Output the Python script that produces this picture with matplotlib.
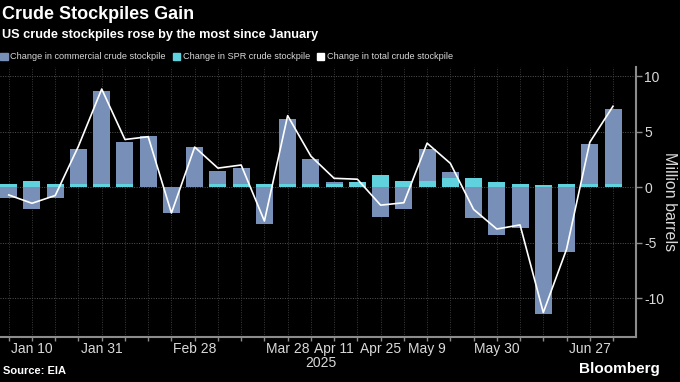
import numpy as np
import matplotlib
matplotlib.use("Agg")
import matplotlib.pyplot as plt
from matplotlib.patches import Patch

# weekly EIA changes, million barrels (weeks ending Jan 3 .. Jul 4, 2025)
weeks = ["Jan 3", "Jan 10", "Jan 17", "Jan 24", "Jan 31", "Feb 7", "Feb 14", "Feb 21",
         "Feb 28", "Mar 7", "Mar 14", "Mar 21", "Mar 28", "Apr 4", "Apr 11", "Apr 18",
         "Apr 25", "May 2", "May 9", "May 16", "May 23", "May 30", "Jun 6", "Jun 13",
         "Jun 20", "Jun 27", "Jul 4"]
commercial = [-0.95, -1.96, -1.0, 3.46, 8.66, 4.07, 4.6, -2.33, 3.61, 1.45, 1.75, -3.34,
              6.17, 2.55, 0.51, 0.24, -2.7, -1.99, 3.45, 1.33, -2.8, -4.3, -3.64, -11.47,
              -5.84, 3.85, 7.07]
spr = [0.27, 0.54, 0.27, 0.27, 0.27, 0.27, 0.0, 0.0, 0.0, 0.27, 0.27, 0.33, 0.33, 0.27,
       0.3, 0.48, 1.08, 0.57, 0.54, 0.87, 0.81, 0.51, 0.27, 0.21, 0.27, 0.27, 0.27]
total = [-0.7, -1.45, -0.75, 3.7, 8.85, 4.3, 4.55, -2.33, 3.62, 1.72, 2.0, -3.05, 6.45,
         2.8, 0.8, 0.72, -1.62, -1.4, 3.97, 2.15, -2.0, -3.77, -3.4, -11.3, -5.6, 4.05, 7.3]
shown_ticks = ["Jan 10", "Jan 31", "Feb 28", "Mar 28", "Apr 11", "Apr 25", "May 9",
               "May 30", "Jun 27"]

bg = "#000000"
c_comm = "#7890b8"
c_spr = "#5fd2de"
txt = "#d9d9d9"
axis_c = "#8c8c8c"

plt.rcParams["font.family"] = ["Liberation Sans", "DejaVu Sans"]

fig = plt.figure(figsize=(6.8, 3.82), dpi=100, facecolor=bg)
ax = fig.add_axes([0.0, 0.118, 0.935, 0.707], facecolor=bg)

x = np.arange(len(weeks))
ax.bar(x, commercial, width=0.73, color=c_comm, zorder=2)
ax.bar(x, spr, width=0.73, color=c_spr, zorder=3)
ax.plot(x, total, color="white", lw=1.2, zorder=4)

ax.set_xlim(-0.376, 26.98)
ax.set_ylim(-13.5, 10.85)

# grid
ax.set_yticks([-10, -5, 0, 5, 10])
ax.set_yticklabels(["-10", "-5", "0", "5", "10"])
for v in [-10, -5, 0, 5, 10]:
    ax.axhline(v, color="#555555", lw=0.7, ls=(0, (1, 1.5)), zorder=1)
for xi in x:
    ax.axvline(xi, color="#3c3c3c", lw=0.7, ls=(0, (1, 1.5)), zorder=1)

ax.yaxis.tick_right()
ax.yaxis.set_label_position("right")
ax.tick_params(axis="y", colors=axis_c, labelcolor=txt, labelsize=10, length=4,
               width=1, pad=2)
ax.set_ylabel("Million barrels", color=txt, fontsize=11.5, rotation=270, labelpad=9)

ax.set_xticks(x, minor=True)
ax.set_xticks([weeks.index(w) for w in shown_ticks])
ax.set_xticklabels(shown_ticks)
ax.tick_params(axis="x", which="both", colors=axis_c, labelcolor=txt, labelsize=10,
               length=3, width=1, pad=1)
ax.text(13.45, -0.072, "2025", transform=ax.get_xaxis_transform(), ha="center",
        va="top", color=txt, fontsize=10)

for s in ["top", "left"]:
    ax.spines[s].set_visible(False)
for s in ["bottom", "right"]:
    ax.spines[s].set_color(axis_c)
    ax.spines[s].set_linewidth(1.5)

fig.text(0.003, 0.985, "Crude Stockpiles Gain", color="white", fontsize=13,
         fontweight="bold", va="top", ha="left")
fig.text(0.003, 0.925, "US crude stockpiles rose by the most since January", color="white",
         fontsize=9.2, fontweight="bold", va="top", ha="left")

handles = [Patch(color=c_comm), Patch(color=c_spr), Patch(color="white")]
labels = ["Change in commercial crude stockpile", "Change in SPR crude stockpile",
          "Change in total crude stockpile"]
fig.legend(handles, labels, loc="center left", bbox_to_anchor=(-0.002, 0.851), ncol=3,
           frameon=False, fontsize=6.6, labelcolor=txt, handlelength=0.8, handleheight=0.8,
           handletextpad=0.25, columnspacing=0.8, borderaxespad=0, borderpad=0.2)

fig.text(0.005, 0.015, "Source: EIA", color="white", fontsize=8, fontweight="bold",
         va="bottom", ha="left")
fig.text(0.97, 0.015, "Bloomberg", color="white", fontsize=11, fontweight="bold",
         va="bottom", ha="right")

fig.savefig("out.png", dpi=100, facecolor=bg)
